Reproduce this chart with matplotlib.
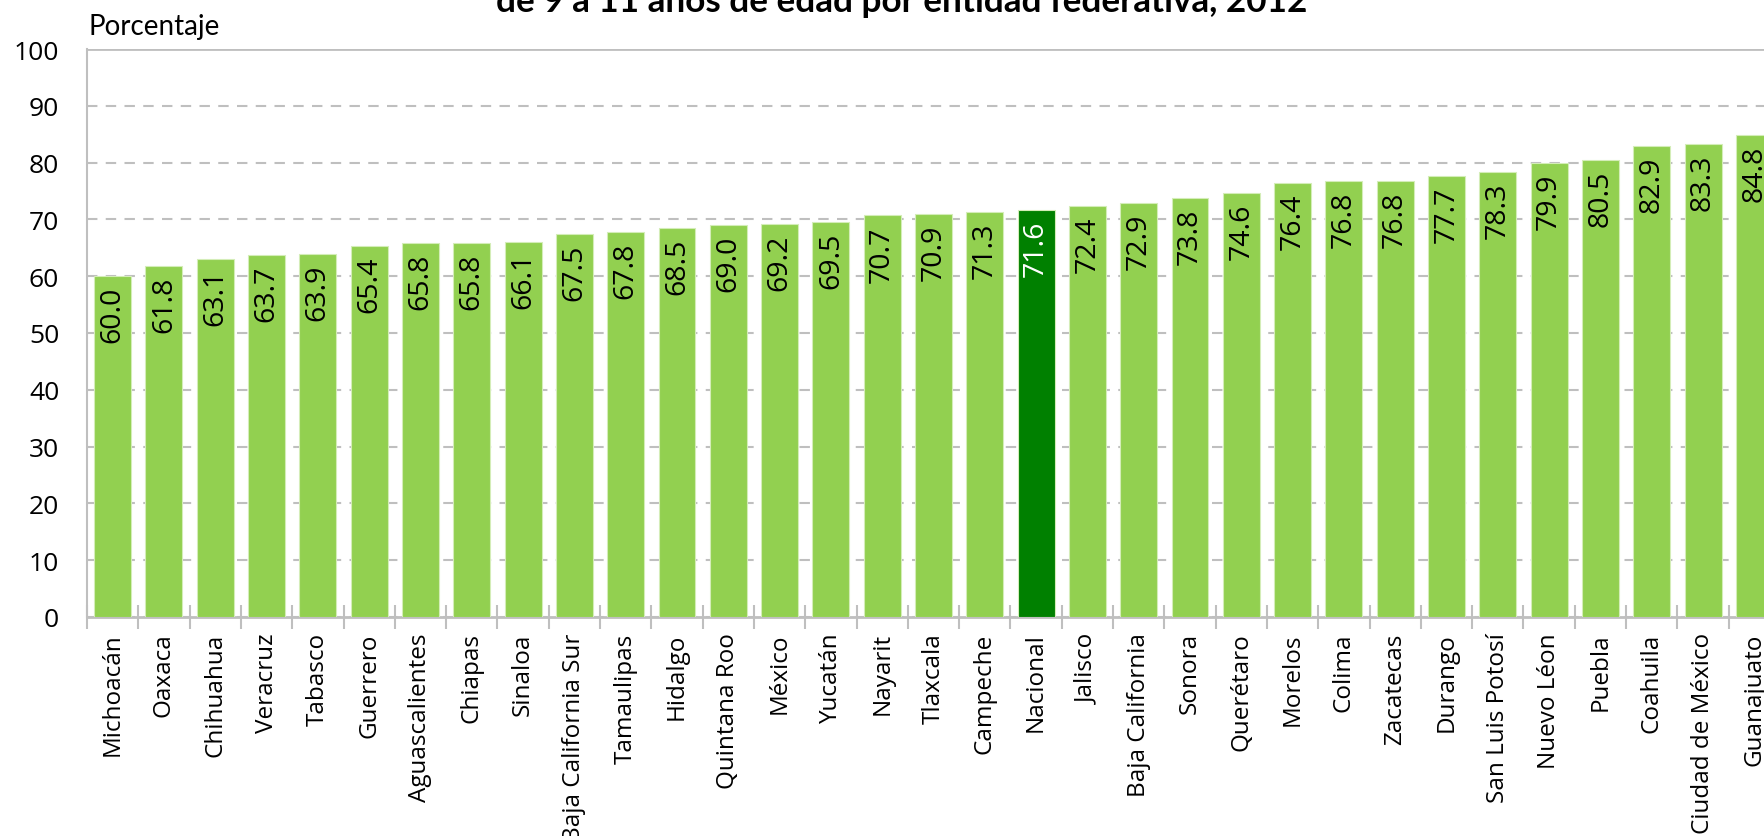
import numpy as np
import matplotlib
matplotlib.use("Agg")
import matplotlib.pyplot as plt
from matplotlib.ticker import FixedLocator

# -----------------------
# Data
# -----------------------
entidades = [
    "Michoacán", "Oaxaca", "Chihuahua", "Veracruz", "Tabasco", "Guerrero",
    "Aguascalientes", "Chiapas", "Sinaloa", "Baja California Sur", "Tamaulipas",
    "Hidalgo", "Quintana Roo", "México", "Yucatán", "Nayarit", "Tlaxcala",
    "Campeche", "Nacional", "Jalisco", "Baja California", "Sonora", "Querétaro",
    "Morelos", "Colima", "Zacatecas", "Durango", "San Luis Potosí", "Nuevo Léon",
    "Puebla", "Coahuila", "Ciudad de México", "Guanajuato",
]
porcentaje = [
    60.0, 61.8, 63.1, 63.7, 63.9, 65.4, 65.8, 65.8, 66.1, 67.5, 67.8,
    68.5, 69.0, 69.2, 69.5, 70.7, 70.9, 71.3, 71.6, 72.4, 72.9, 73.8, 74.6,
    76.4, 76.8, 76.8, 77.7, 78.3, 79.9, 80.5, 82.9, 83.3, 84.8,
]
destacado = "Nacional"
titulo = "de 9 a 11 años de edad por entidad federativa, 2012"
y_ticks = [0, 10, 20, 30, 40, 50, 60, 70, 80, 90, 100]

# -----------------------
# Style
# -----------------------
VERDE = "#92D050"
VERDE_OSCURO = "#008000"
GRIS = "#BFBFBF"
FONT = ["Open Sans", "DejaVu Sans"]

plt.rcParams["font.family"] = FONT

fig = plt.figure(figsize=(17.65, 8.37), dpi=100)
ax = fig.add_axes([87 / 1765, 1 - 618 / 837, 1693 / 1765, 568 / 837])

x = np.arange(len(entidades))
colores = [VERDE_OSCURO if e == destacado else VERDE for e in entidades]
ax.bar(x, porcentaje, width=0.72, color=colores, edgecolor="#D4EDB8",
       linewidth=0.8, zorder=3)

# value labels inside the bars
for xi, v, e in zip(x, porcentaje, entidades):
    ax.annotate(f"{v:.1f}", xy=(xi, v), xytext=(0, -7), textcoords="offset points",
                rotation=90, ha="center", va="top", fontsize=20.5,
                color="white" if e == destacado else "black", zorder=4)

ax.set_xlim(-0.5, len(entidades) - 0.5)
ax.set_ylim(0, 100)
ax.set_yticks(y_ticks)
ax.tick_params(axis="y", length=0, pad=20, labelsize=19)

ax.set_xticks(x)
ax.set_xticklabels(entidades, rotation=90, fontsize=17.5)
ax.tick_params(axis="x", which="major", length=0, pad=11)
ax.xaxis.set_minor_locator(FixedLocator(np.arange(len(entidades) + 1) - 0.5))
ax.tick_params(axis="x", which="minor", direction="inout", length=17,
               width=1.5, color=GRIS)

ax.yaxis.grid(True, linestyle=(0, (5, 4)), color=GRIS, linewidth=1.5, zorder=0)
ax.axhline(100, color=GRIS, linewidth=2, zorder=1)
ax.set_axisbelow(True)

for side in ["top", "right"]:
    ax.spines[side].set_visible(False)
ax.spines["left"].set_color(GRIS)
ax.spines["left"].set_linewidth(1.5)
ax.spines["bottom"].set_color(GRIS)
ax.spines["bottom"].set_linewidth(2)

fig.text(89 / 1765, 1 - 35 / 837, "Porcentaje", fontsize=20,
         family=["Lato", "DejaVu Sans"], ha="left", va="baseline")
fig.text(902 / 1765, 1 - 12 / 837, titulo, fontsize=25.3, fontweight="bold",
         family=["Lato", "DejaVu Sans"], ha="center", va="baseline")

fig.savefig("out.png", dpi=100)
